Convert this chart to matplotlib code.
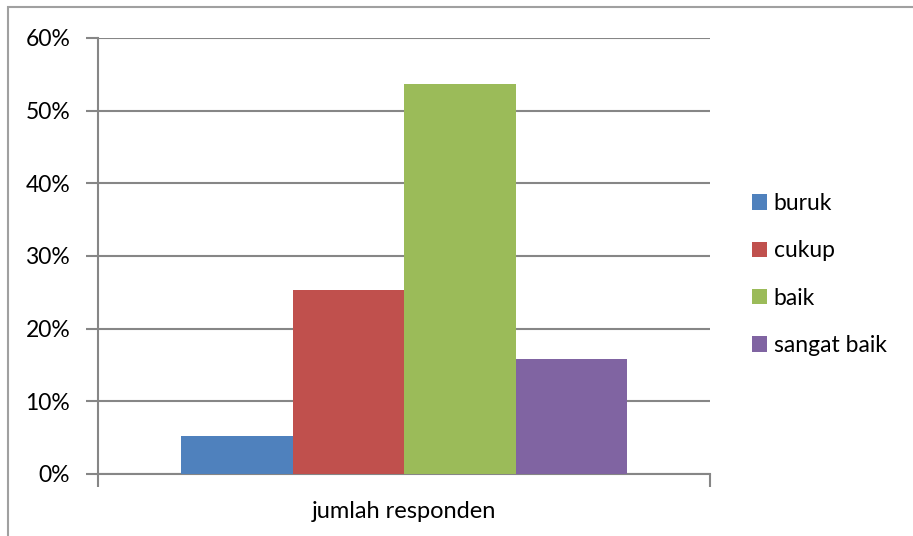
import matplotlib.pyplot as plt
from matplotlib.patches import Rectangle
from matplotlib.ticker import PercentFormatter

# data: share of respondents per rating (n = 95)
categories = ['buruk', 'cukup', 'baik', 'sangat baik']
counts = [5, 24, 51, 15]
total = 95
shares = [c / total for c in counts]
colors = ['#4f81bd', '#c0504d', '#9bbb59', '#8064a2']
group_label = 'jumlah responden'

plt.rcParams['font.family'] = ['Lato', 'DejaVu Sans']
fs = 16.5
fig = plt.figure(figsize=(9.13, 5.36), dpi=100)
ax = fig.add_axes([98 / 913, 62 / 536, 612 / 913, 436 / 536])

# chart frame like the office chart border
fig.patches.append(Rectangle((8 / 913, -0.1), 1.1, (529 / 536) + 0.1,
                             transform=fig.transFigure, fill=False,
                             edgecolor='#a0a0a0', linewidth=1.5))

w = 111.5 / 612
n = len(categories)
for i, (cat, val, col) in enumerate(zip(categories, shares, colors)):
    xpos = (i - (n - 1) / 2) * w
    ax.bar(xpos, val, width=w, color=col, label=cat, zorder=3)

ax.set_xlim(-0.5, 0.5)
ax.set_ylim(0, 0.6)
ax.set_yticks([0, 0.1, 0.2, 0.3, 0.4, 0.5, 0.6])
ax.yaxis.set_major_formatter(PercentFormatter(1.0, decimals=0))
ax.yaxis.grid(True, color='#868686', linewidth=1.5, zorder=0)
ax.set_axisbelow(True)

for side in ['top', 'right']:
    ax.spines[side].set_visible(False)
for side in ['left', 'bottom']:
    ax.spines[side].set_color('#868686')
    ax.spines[side].set_linewidth(1.5)

ax.tick_params(axis='y', length=9, width=1.5, color='#868686',
               labelsize=fs, pad=11)
ax.set_xticks([-0.5, 0.5])
ax.set_xticklabels(['', ''])
ax.tick_params(axis='x', length=9, width=1.5, color='#868686')
ax.text(0.5, -44 / 436, group_label, ha='center', va='baseline',
        fontsize=17, transform=ax.transAxes)

fig.legend(loc='center left', bbox_to_anchor=(752 / 913, 1 - 274.5 / 536),
           frameon=False, fontsize=fs, handlelength=0.65,
           handleheight=0.65, handletextpad=0.3, labelspacing=1.15,
           borderaxespad=0, borderpad=0)

fig.savefig('out.png', dpi=100)
